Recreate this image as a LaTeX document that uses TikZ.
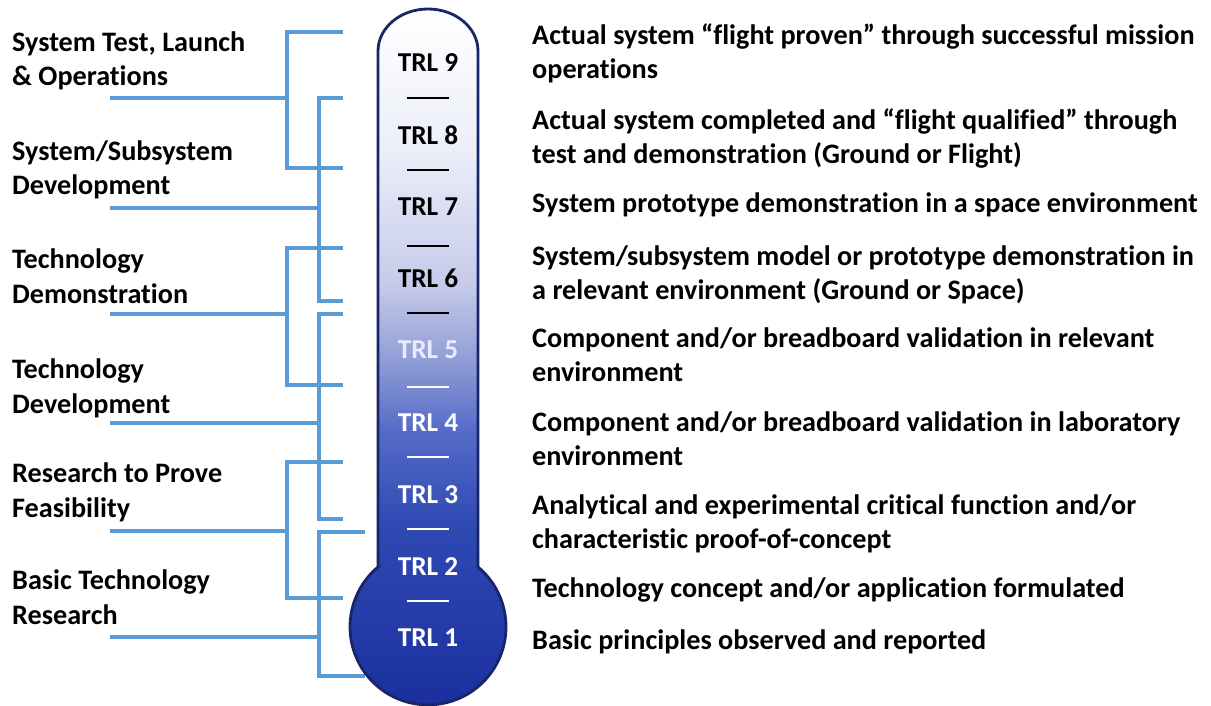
\documentclass[tikz,border=0pt]{standalone}
\usepackage{fontspec}
\setmainfont{Carlito}[Ligatures=CommonOff]
\definecolor{brk}{RGB}{91,155,213}
\definecolor{glassedge}{RGB}{24,38,104}
\definecolor{mc0}{RGB}{26,46,158}
\definecolor{mc1}{RGB}{46,72,178}
\definecolor{mc2}{RGB}{84,106,200}
\definecolor{mc3}{RGB}{148,160,216}
\definecolor{mc4}{RGB}{198,203,234}
\definecolor{mc5}{RGB}{236,238,249}
\pgfdeclareverticalshading{mercury}{100bp}{%
  color(0bp)=(mc0); color(25bp)=(mc0); color(38bp)=(mc1); color(45bp)=(mc2);
  color(50.5bp)=(mc3); color(55.5bp)=(mc4); color(65bp)=(mc5);
  color(75bp)=(white); color(100bp)=(white)}
\tikzset{
  bar/.style={draw=brk, line width=4pt, line cap=butt, line join=miter},
  % multi-line nodes: the base anchor sits on the last line
  group/.style={anchor=base west, inner sep=0pt, align=left,
    font=\fontsize{28.2}{34.5}\selectfont\bfseries},
  desc/.style={anchor=base west, inner sep=0pt, align=left,
    font=\fontsize{28.2}{34}\selectfont\bfseries},
  trl/.style={inner sep=0pt, font=\fontsize{27.3}{30}\selectfont\bfseries},
  tick/.style={line width=2pt},
}
\begin{document}
\begin{tikzpicture}[x=1pt,y=-1pt]
\useasboundingbox[fill=white] (0,0) rectangle (1211,706);

% stage labels on the left
\node[group] (g1) at (12,86)  {System Test, Launch\\\& Operations};
\node[group] (g2) at (12,195) {System/Subsystem\\Development};
\node[group] (g3) at (12,303) {Technology\\Demonstration};
\node[group] (g4) at (12,413) {Technology\\Development};
\node[group] (g5) at (12,517) {Research to Prove\\Feasibility};
\node[group] (g6) at (12,624) {Basic Technology\\Research};

% brackets: name / column x / top y / bottom y / stub y / tick end x
\foreach \n/\cx/\ty/\by/\sy/\ex in {
  1/287/32/168/98/343, 2/319/98/301/208/343, 3/287/248/385/314/343,
  4/319/314/519/423/343, 5/287/462/598/531/343, 6/319/532/676/637/365}{
  \coordinate (b\n-top) at (\ex,\ty);
  \coordinate (b\n-bot) at (\ex,\by);
  \coordinate (b\n-stub) at (110,\sy);
  \coordinate (b\n-col) at (\cx,\sy);
  \draw[bar] (b\n-top) -- (\cx,\ty) -- (\cx,\by) -- (b\n-bot);
  \draw[bar] (b\n-stub) -- (b\n-col);
}

% thermometer body
\shade[shading=mercury, draw=glassedge, line width=2.8pt]
  (378,567) -- (378,51)
  arc[start angle=180, end angle=360, x radius=50, y radius=42]
  -- (478,567)
  arc[start angle=-50.13, end angle=230.13, radius=78] -- cycle;

% level labels and separators
\foreach \k/\y/\c in {9/63/black, 8/135/black, 7/207/black, 6/278/black,
  5/350/white!92!blue, 4/423/white, 3/495/white, 2/567/white, 1/638/white}{
  \node[trl, text=\c] (trl\k) at (428,\y) {TRL \k};
}
\foreach \y/\c in {98/black, 170/black, 246/black, 313/black,
  387/white, 457/white, 529/white, 601/white}{
  \draw[tick, draw=\c] (407,\y) -- (449,\y);
}

% level descriptions on the right
\node[desc] (d9) at (532,79)  {Actual system “flight proven” through successful mission\\operations};
\node[desc] (d8) at (532,164) {Actual system completed and “flight qualified” through\\test and demonstration (Ground or Flight)};
\node[desc] (d7) at (532,212) {System prototype demonstration in a space environment};
\node[desc] (d6) at (532,299) {System/subsystem model or prototype demonstration in\\a relevant environment (Ground or Space)};
\node[desc] (d5) at (532,381) {Component and/or breadboard validation in relevant\\environment};
\node[desc] (d4) at (532,465) {Component and/or breadboard validation in laboratory\\environment};
\node[desc] (d3) at (532,548) {Analytical and experimental critical function and/or\\characteristic proof-of-concept};
\node[desc] (d2) at (532,597) {Technology concept and/or application formulated};
\node[desc] (d1) at (532,649) {Basic principles observed and reported};
\end{tikzpicture}
\end{document}
